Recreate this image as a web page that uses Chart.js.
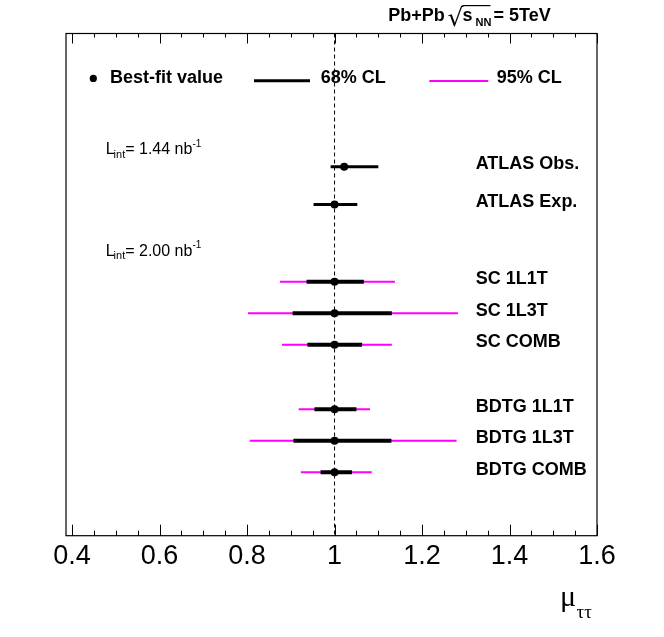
<!DOCTYPE html>
<html><head><meta charset="utf-8">
<script src="https://cdn.jsdelivr.net/npm/chart.js@4.4.1/dist/chart.umd.min.js"></script>
<style>html,body{margin:0;padding:0;background:#fff;} canvas{display:block;}</style>
</head><body>
<canvas id="c" width="664" height="637"></canvas>
<script>
// ---- data ----
const categories = ['ATLAS Obs.', 'ATLAS Exp.', 'SC 1L1T', 'SC 1L3T', 'SC COMB', 'BDTG 1L1T', 'BDTG 1L3T', 'BDTG COMB'];
const rowPos  = [0, 1.2, 3.65, 4.65, 5.65, 7.7, 8.7, 9.7];
const bestFit = [1.022, 1.000, 1.000, 1.000, 1.000, 1.000, 1.000, 1.000];
const lo68 = [0.991, 0.952, 0.936, 0.904, 0.938, 0.954, 0.906, 0.968];
const hi68 = [1.100, 1.052, 1.067, 1.131, 1.063, 1.050, 1.130, 1.040];
const lo95 = [null, null, 0.875, 0.802, 0.880, 0.918, 0.806, 0.923];
const hi95 = [null, null, 1.138, 1.282, 1.131, 1.081, 1.279, 1.085];
const tickValues = [0.4, 0.6, 0.8, 1.0, 1.2, 1.4, 1.6];
const tickLabels = ['0.4', '0.6', '0.8', '1', '1.2', '1.4', '1.6'];
const xRange = [0.386, 1.6];
const yRange = [-4.229, 11.714];
const refValue = 1;
const lumiLabels = ['1.44', '2.00'];

// ---- datasets ----
const datasets = [];
datasets.push({
  data: categories.map((c, i) => ({x: bestFit[i], y: rowPos[i]})),
  showLine: false, pointRadius: 4, pointHoverRadius: 4,
  pointBackgroundColor: '#000', pointBorderWidth: 0, order: 0
});
categories.forEach((c, i) => {
  datasets.push({
    data: [{x: lo68[i], y: rowPos[i]}, {x: hi68[i], y: rowPos[i]}],
    showLine: true, borderColor: '#000', borderWidth: lo95[i] == null ? 3 : 4,
    pointRadius: 0, pointHoverRadius: 0, order: 1
  });
  if (lo95[i] != null) {
    datasets.push({
      data: [{x: lo95[i], y: rowPos[i]}, {x: hi95[i], y: rowPos[i]}],
      showLine: true, borderColor: '#ff00ff', borderWidth: 2,
      pointRadius: 0, pointHoverRadius: 0, order: 2
    });
  }
});
datasets.push({
  data: [{x: refValue, y: yRange[0]}, {x: refValue, y: yRange[1]}],
  showLine: true, borderColor: '#000', borderWidth: 1, borderDash: [4, 3],
  pointRadius: 0, pointHoverRadius: 0, order: 3
});

const SANS = '"Liberation Sans", Arial, Helvetica, sans-serif';
const SERIF = '"Liberation Serif", "Times New Roman", serif';

const decor = {
  id: 'decor',
  afterDraw(chart) {
    const ctx = chart.ctx, ca = chart.chartArea;
    const xs = chart.scales.x, ys = chart.scales.y;
    ctx.save();
    // frame
    ctx.strokeStyle = '#000'; ctx.lineWidth = 1.2;
    ctx.strokeRect(ca.left, ca.top, ca.right - ca.left, ca.bottom - ca.top);
    // ticks
    ctx.lineWidth = 1;
    ctx.beginPath();
    for (let k = 0; k <= 24; k++) {
      const v = Math.round((0.4 + k * 0.05) * 100) / 100;
      const major = tickValues.some(t => Math.abs(t - v) < 1e-6);
      const px = Math.round(xs.getPixelForValue(v)) + 0.5;
      const lb = major ? 11 : 5, lt = major ? 10 : 4;
      ctx.moveTo(px, ca.bottom); ctx.lineTo(px, ca.bottom - lb);
      ctx.moveTo(px, ca.top); ctx.lineTo(px, ca.top + lt);
    }
    ctx.stroke();

    ctx.fillStyle = '#000';
    ctx.textBaseline = 'alphabetic';
    ctx.textAlign = 'left';
    // row labels
    ctx.font = 'bold 18px ' + SANS;
    categories.forEach((c, i) => {
      const py = ys.getPixelForValue(rowPos[i]);
      ctx.fillText(c, 475.7, py - 4 + 6.4);
    });

    // title
    ctx.font = 'bold 18px ' + SANS;
    ctx.fillText('Pb+Pb', 388.3, 20.7);
    ctx.font = '25px "DejaVu Sans", sans-serif';
    const m = ctx.measureText('\u221A');
    const asc = m.actualBoundingBoxAscent;
    const rBase = 5 + asc;
    const rx = 447.5;
    ctx.fillText('\u221A', rx, rBase);
    ctx.beginPath(); ctx.lineWidth = 1.2;
    ctx.moveTo(rx + m.actualBoundingBoxRight - 1, 5.6); ctx.lineTo(490.5, 5.6); ctx.stroke();
    ctx.font = 'bold 18px ' + SANS;
    ctx.fillText('s', 462.5, 20.7);
    ctx.font = 'bold 11px ' + SANS;
    ctx.fillText('NN', 475.5, 25.5);
    ctx.font = 'bold 18px ' + SANS;
    ctx.fillText('= 5TeV', 493.5, 20.7);

    // legend
    ctx.beginPath(); ctx.arc(93.3, 78.4, 3.6, 0, Math.PI * 2); ctx.fill();
    ctx.font = 'bold 18px ' + SANS;
    ctx.fillText('Best-fit value', 110, 82.7);
    ctx.fillText('68% CL', 320.7, 82.7);
    ctx.fillText('95% CL', 496.7, 82.7);
    ctx.lineWidth = 3; ctx.strokeStyle = '#000';
    ctx.beginPath(); ctx.moveTo(254, 80.7); ctx.lineTo(310, 80.7); ctx.stroke();
    ctx.lineWidth = 2; ctx.strokeStyle = '#ff00ff';
    ctx.beginPath(); ctx.moveTo(429.3, 81); ctx.lineTo(488.3, 81); ctx.stroke();

    // luminosity labels
    const lumiBase = [154, 255.6];
    lumiLabels.forEach((l, j) => {
      let lx = 105.7; const by = lumiBase[j];
      ctx.font = '16px ' + SANS; ctx.fillText('L', lx, by); lx += ctx.measureText('L').width - 1;
      ctx.font = '11px ' + SANS; ctx.fillText('int', lx, by + 3.7); lx += ctx.measureText('int').width;
      ctx.font = '16px ' + SANS; const s = '= ' + l + ' nb'; ctx.fillText(s, lx, by); lx += ctx.measureText(s).width;
      ctx.font = '10px ' + SANS; ctx.fillText('-1', lx, by - 7.5);
    });

    // axis title
    ctx.font = '30px ' + SERIF;
    ctx.fillText('\u03BC', 560, 606);
    ctx.font = '19px ' + SERIF;
    ctx.fillText('\u03C4\u03C4', 576.5, 618);
    ctx.restore();
  }
};

new Chart(document.getElementById('c'), {
  type: 'scatter',
  data: {datasets},
  options: {
    responsive: false,
    animation: false,
    layout: {padding: {left: 66, right: 67, top: 33.5, bottom: 58.9}},
    plugins: {legend: {display: false}, tooltip: {enabled: false}},
    events: [],
    scales: {
      x: {
        type: 'linear', min: xRange[0], max: xRange[1], position: 'bottom',
        afterBuildTicks: (scale) => { scale.ticks = tickValues.map(v => ({value: v})); },
        grid: {display: false, drawTicks: false},
        border: {display: false},
        ticks: {
          padding: 5, maxRotation: 0, autoSkip: false, color: '#000',
          font: {family: SANS, size: 27},
          callback: (v) => { const i = tickValues.findIndex(t => Math.abs(t - v) < 1e-6); return i >= 0 ? tickLabels[i] : ''; }
        }
      },
      y: {
        type: 'linear', min: yRange[0], max: yRange[1], reverse: true, display: false
      }
    }
  },
  plugins: [decor]
});
</script>
</body></html>
